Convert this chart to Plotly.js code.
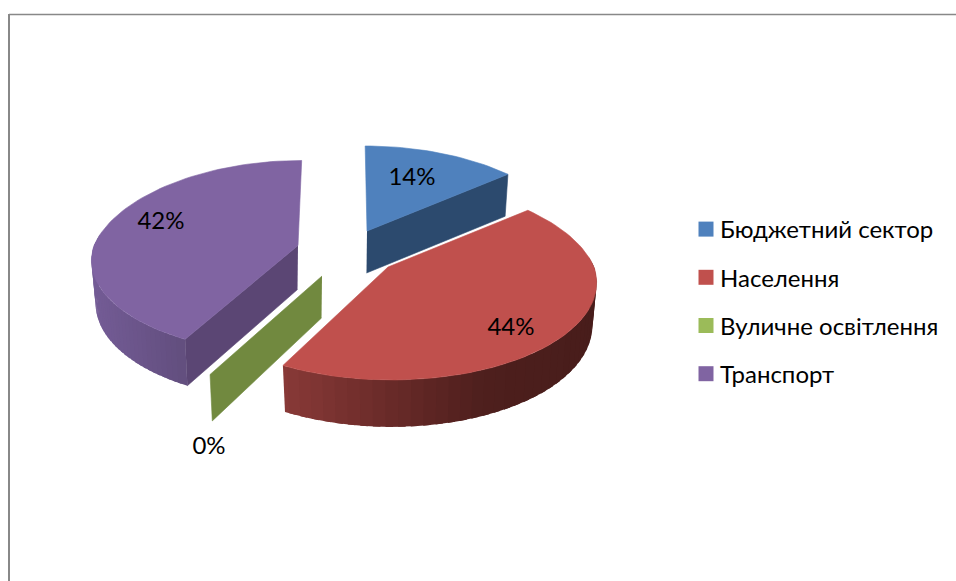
<!DOCTYPE html>
<html><head><meta charset="utf-8">
<script src="https://cdn.plot.ly/plotly-3.0.1.min.js"></script>
<style>html,body{margin:0;padding:0;background:#fff}#c{width:956px;height:581px}</style>
</head><body><div id="c"></div>
<script>
// Data
const categories = ["Бюджетний сектор","Населення","Вуличне освітлення","Транспорт"];
const shares = [14, 43.6, 0.2, 42.2];
// Styles
const topColors = ["#4f81bd","#c0504d","#9bbb59","#8064a2"];
const edgeColors = ["#2c4a6e","#5a2422","#71893f","#5b4674"];
const rimStops = {1:[[284,[138,58,56]],[400,[104,42,40]],[490,[78,31,29]],[598,[72,29,27]]],
                  3:[[91,[116,92,150]],[188,[98,78,126]]]};
// Geometry of the tilted disc
const apex = [[367,231],[388,267],[322,276],[298,245.5]];
const labelPos = [[412,179],[511,329],[209,448],[161,223]];
const radiusScale = [1,1,1.02,0.99];
const frontScale = [1,1,1,0.96];
const A=206,B=97,K=0.141,VX=344,SKEW=0.08;
const rad=d=>d*Math.PI/180;
function proj(i,deg,low){
  const u=Math.sin(rad(deg)),v=Math.cos(rad(deg)),w=1+K*v,wx=1+K*v*(v>0?1.3:1),[ax,ay]=apex[i];
  let x=A*radiusScale[i]*u/wx+(VX-ax)*SKEW*v, y=-B*v/w*(v<0?frontScale[i]:1);
  if(low){x*=0.98;y+=v<0?42-5*v:42;}
  return [ax+x,ay+y];
}
function apexLow(i){return [apex[i][0]-0.5,apex[i][1]+(i===3?44:42)];}
function lerpColor(stops,x){
  if(x<=stops[0][0])return stops[0][1];
  for(let j=1;j<stops.length;j++){
    if(x<=stops[j][0]){const t=(x-stops[j-1][0])/(stops[j][0]-stops[j-1][0]);
      return stops[j][1].map((c,k)=>c+(stops[j-1][1][k]-c)*(1-t));}
  }
  return stops[stops.length-1][1];
}
const poly=(pts,color,w)=>({type:"scatter",mode:"lines",x:pts.map(p=>p[0]),y:pts.map(p=>p[1]),
  fill:"toself",fillcolor:color,line:{color:color,width:w===undefined?0.6:w},hoverinfo:"skip",showlegend:false});

const total=shares.reduce((a,b)=>a+b,0);
let ang=0; const spans=shares.map(s=>{const a=[ang,ang+s/total*360];ang=a[1];return a;});
const traces=[];
function drawSlice(i){
  const [s,e]=spans[i];
  // radial end wall
  if(i===0){traces.push(poly([apex[i],proj(i,e,false),proj(i,e,true),apexLow(i)],edgeColors[i]));}
  if(i===3||i===2){traces.push(poly([apex[i],proj(i,s,false),proj(i,s,true),apexLow(i)],edgeColors[i]));}
  if(i===2)return;
  // outer rim, visible on the front half only: overlapping strips painted end to start
  if(rimStops[i]){
    const r0=Math.max(s,84),r1=Math.min(e,277),n=40;
    for(let j=n-1;j>=0;j--){
      const a=r0+(r1-r0)*j/n,b=Math.min(r1,r0+(r1-r0)*(j+1.6)/n);
      const arcT=[],arcB=[];
      for(let m=0;m<=3;m++){const d=a+(b-a)*m/3;arcT.push(proj(i,d,false));arcB.unshift(proj(i,d,true));}
      const c=lerpColor(rimStops[i],(arcT[0][0]+arcT[2][0])/2).map(Math.round);
      traces.push(poly(arcT.concat(arcB),`rgb(${c.join(",")})`,0));
    }
  }
  // top face
  const pts=[apex[i]];
  const steps=Math.max(4,Math.round((e-s)/2));
  for(let j=0;j<=steps;j++)pts.push(proj(i,s+(e-s)*j/steps,false));
  pts.push(apex[i]);
  traces.push(poly(pts,topColors[i]));
}
[3,2,0,1].forEach(drawSlice);

// data labels
categories.forEach((c,i)=>traces.push({type:"scatter",mode:"text",x:[labelPos[i][0]],y:[labelPos[i][1]],
  text:[Math.round(shares[i]/total*100)+"%"],textposition:"middle center",
  textfont:{family:"Lato, 'Open Sans', sans-serif",size:24,color:"#000"},hoverinfo:"skip",showlegend:false}));

// legend entries
categories.forEach((c,i)=>traces.push({type:"scatter",mode:"markers",name:c,x:[null],y:[null],legendgroup:"g"+i,
  marker:{symbol:"square",size:15,color:topColors[i]},hoverinfo:"skip"}));

const layout={width:956,height:581,margin:{l:0,r:0,t:0,b:0},paper_bgcolor:"#fff",plot_bgcolor:"#fff",
  xaxis:{range:[0,956],visible:false,fixedrange:true},
  yaxis:{range:[581,0],visible:false,fixedrange:true},
  showlegend:true,
  legend:{x:680/956,xanchor:"left",y:1-207/581,yanchor:"top",tracegroupgap:14,bgcolor:"rgba(0,0,0,0)",
    font:{family:"Lato, 'Open Sans', sans-serif",size:24,color:"#000"},itemclick:false,itemdoubleclick:false},
  shapes:[{type:"line",xref:"paper",yref:"paper",x0:9/956,x1:1,y0:1-14.5/581,y1:1-14.5/581,line:{color:"#888",width:1.6}},
          {type:"line",xref:"paper",yref:"paper",x0:9/956,x1:9/956,y0:1-14/581,y1:0,line:{color:"#888",width:2}}]};
Plotly.newPlot("c",traces,layout,{displayModeBar:false,staticPlot:true}).then(()=>{
  // reference keeps the legend swatch closer to its text
  document.querySelectorAll(".legendsymbols").forEach(g=>g.setAttribute("transform","translate(6,0)"));
});
</script></body></html>
